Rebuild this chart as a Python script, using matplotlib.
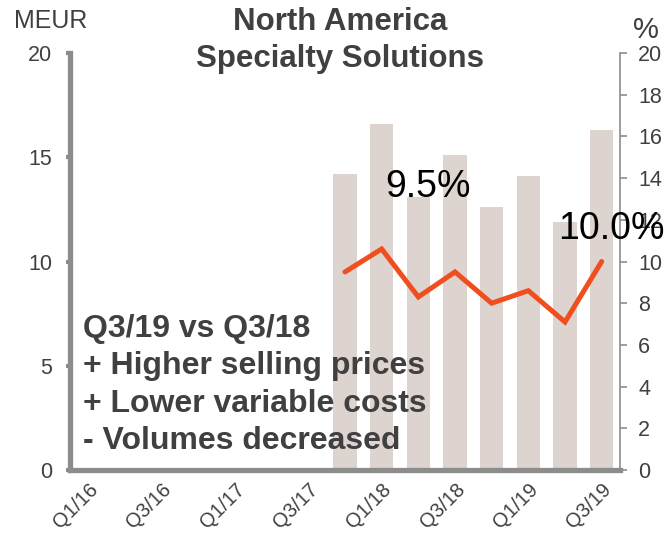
import numpy as np
import matplotlib.pyplot as plt

plt.rcParams['font.family'] = ['Liberation Sans', 'DejaVu Sans']

# ---- data ----
quarters = ["Q1/16", "Q2/16", "Q3/16", "Q4/16", "Q1/17", "Q2/17", "Q3/17", "Q4/17",
            "Q1/18", "Q2/18", "Q3/18", "Q4/18", "Q1/19", "Q2/19", "Q3/19"]
bar_quarters = ["Q4/17", "Q1/18", "Q2/18", "Q3/18", "Q4/18", "Q1/19", "Q2/19", "Q3/19"]
ebitda_meur = [14.2, 16.6, 13.1, 15.1, 12.6, 14.1, 11.9, 16.3]
margin_pct = [9.5, 10.6, 8.3, 9.5, 8.0, 8.6, 7.1, 10.0]
shown_ticks = ["Q1/16", "Q3/16", "Q1/17", "Q3/17", "Q1/18", "Q3/18", "Q1/19", "Q3/19"]

TXT = "#404040"
GRAY = "#8c8c8c"
BAR = "#ddd3cf"
LINE = "#f04e1e"

fig = plt.figure(figsize=(6.69, 5.35), dpi=100)
ax = fig.add_axes([70 / 669, 65 / 535, 550 / 669, 417 / 535])
ax2 = ax.twinx()

xpos = {q: i for i, q in enumerate(quarters)}
bx = [xpos[q] for q in bar_quarters]

ax.bar(bx, ebitda_meur, width=0.64, color=BAR, zorder=1)
ax2.plot(bx, margin_pct, color=LINE, lw=3.6, solid_capstyle='round',
         solid_joinstyle='miter', zorder=3)

ax.set_xlim(-0.5, len(quarters) - 0.5)
ax.set_ylim(0, 20)
ax2.set_ylim(0, 20)

ax.set_yticks([0, 5, 10, 15, 20])
ax2.set_yticks(np.arange(0, 21, 2))
ax.set_xticks([xpos[q] for q in shown_ticks])
ax.set_xticklabels(shown_ticks, rotation=45, ha='right', va='top',
                   rotation_mode='anchor')

# spines
for s in ['top', 'right']:
    ax.spines[s].set_visible(False)
ax.spines['left'].set_color(GRAY)
ax.spines['left'].set_linewidth(3.8)
ax.spines['bottom'].set_color(GRAY)
ax.spines['bottom'].set_linewidth(3.8)
ax.spines['bottom'].set_capstyle('projecting')
for s in ['top', 'left', 'bottom']:
    ax2.spines[s].set_visible(False)
ax2.spines['right'].set_color(GRAY)
ax2.spines['right'].set_linewidth(1.2)

ax.tick_params(axis='y', colors=GRAY, labelcolor=TXT, labelsize=15.5,
               length=3, width=3, pad=10)
ax.tick_params(axis='x', length=0, labelcolor=TXT, labelsize=14.5, pad=7)
ax2.tick_params(axis='y', colors=GRAY, labelcolor=TXT, labelsize=15.5,
                length=5, width=1.2, pad=8)

# titles and unit labels
fig.text(340 / 669, 1 - 22 / 535, "North America", ha='center', va='center',
         fontsize=22.5, fontweight='bold', color=TXT)
fig.text(340 / 669, 1 - 59 / 535, "Specialty Solutions", ha='center', va='center',
         fontsize=22.5, fontweight='bold', color=TXT)
fig.text(14 / 669, 1 - 21 / 535, "MEUR", ha='left', va='center',
         fontsize=18, color=TXT)
fig.text(646 / 669, 1 - 30 / 535, "%", ha='center', va='center',
         fontsize=21, color=TXT)

# value labels
ax2.text(9.27, 13.1, "9.5%", ha='center', va='baseline', fontsize=27,
         color='black', zorder=4)
ax2.text(14.27, 11.08, "10.0%", ha='center', va='baseline',
         fontsize=27, color='black', zorder=4)

# commentary
notes = ["Q3/19 vs Q3/18", "+ Higher selling prices",
         "+ Lower variable costs", "- Volumes decreased"]
for i, line in enumerate(notes):
    fig.text(83 / 669, 1 - (337 + 37.3 * i) / 535, line, ha='left',
             va='baseline', fontsize=23, fontweight='bold', color=TXT)

fig.savefig("out.png", dpi=100)
